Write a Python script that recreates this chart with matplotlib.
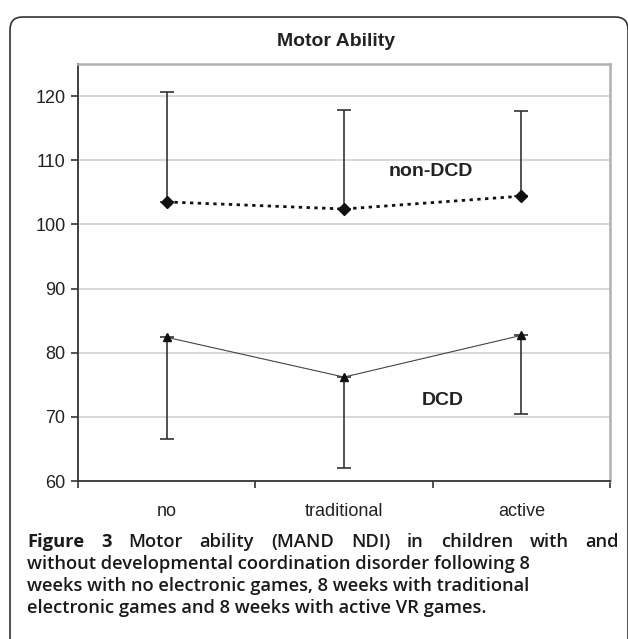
import numpy as np
import matplotlib.pyplot as plt
from matplotlib.patches import FancyBboxPatch

categories = ["no", "traditional", "active"]
non_dcd = [103.5, 102.4, 104.4]
non_dcd_upper = [120.6, 117.9, 117.6]
dcd = [82.4, 76.2, 82.7]
dcd_lower = [66.5, 62.0, 70.4]
y_ticks = [60, 70, 80, 90, 100, 110, 120]

caption = ["Motor ability (MAND NDI) in children with and",
           "without developmental coordination disorder following 8",
           "weeks with no electronic games, 8 weeks with traditional",
           "electronic games and 8 weeks with active VR games."]

W, H = 628, 639
fig = plt.figure(figsize=(W / 100, H / 100), dpi=100)

# rounded frame, cut off at right and bottom like the source
frame = FancyBboxPatch((10 / W, 1 - 17 / H - 1.2), 618 / W, 1.2,
                       boxstyle="round,pad=0,rounding_size=0.02",
                       transform=fig.transFigure, fill=False,
                       ec="#333333", lw=1.2, clip_on=False)
fig.patches.append(frame)

ax = fig.add_axes([78 / W, 1 - 481 / H, 532 / W, 417 / H])
x = np.arange(1, len(categories) + 1)

ax.set_ylim(60, 125)
ax.set_xlim(0.5, len(categories) + 0.5)
ax.set_yticks(y_ticks)
ax.set_yticklabels([str(v) for v in y_ticks], fontsize=13, family="Liberation Sans", color="#222222")
for v in y_ticks[1:]:
    ax.axhline(v, color="#d2d2d2", lw=1.2, zorder=0)

ax.set_xticks(x)
ax.set_xticklabels(categories, fontsize=13, family="Liberation Sans", color="#222222")
ax.tick_params(axis="x", length=0, pad=16)
ax.set_xticks(np.arange(0.5, len(categories) + 1, 1.0), minor=True)
ax.tick_params(axis="x", which="minor", length=5, direction="out", color="#333333", width=1.2)
ax.tick_params(axis="y", length=5, direction="out", color="#333333", width=1.2, pad=4)

for s in ["left", "bottom"]:
    ax.spines[s].set_color("#333333")
    ax.spines[s].set_linewidth(1.3)
for s in ["top", "right"]:
    ax.spines[s].set_color("#b0b0b0")
    ax.spines[s].set_linewidth(1.8)

# non-DCD: upper error bars only
up = np.array(non_dcd_upper) - np.array(non_dcd)
ax.errorbar(x, non_dcd, yerr=[np.zeros(len(x)), up], fmt="none",
            ecolor="#333333", elinewidth=1.2, capsize=5, capthick=1.2, zorder=2)
ax.plot(x, non_dcd, color="#111111", lw=2, linestyle=(0, (1.2, 1.6)), zorder=3)
ax.plot(x, non_dcd, "D", color="#111111", ms=6, zorder=4)

# DCD: lower error bars only
lo = np.array(dcd) - np.array(dcd_lower)
ax.errorbar(x, dcd, yerr=[lo, np.zeros(len(x))], fmt="none",
            ecolor="#333333", elinewidth=1.2, capsize=5, capthick=1.2, zorder=2)
ax.plot(x, dcd, color="#444444", lw=0.8, zorder=3)
ax.plot(x, dcd, "^", color="#111111", ms=6, zorder=4)

ax.text(2.25, 108.3, "non-DCD", fontsize=14, fontweight="bold", family="Liberation Sans",
        color="#222222", va="center")
ax.text(2.44, 72.6, "DCD", fontsize=14, fontweight="bold", family="Liberation Sans",
        color="#222222", va="center")

fig.text(336 / W, 1 - 41 / H, "Motor Ability", fontsize=14, fontweight="bold",
         family="Liberation Sans", color="#222222", ha="center", va="center")

# caption, first line justified
x0, x1 = 27, 619
ys = [542, 564, 586, 608]
fs = 13.2
fig.canvas.draw()
renderer = fig.canvas.get_renderer()
words = [("Figure", "bold"), ("3", "bold")] + [(w, "semibold") for w in caption[0].split()]
arts = []
for w, wt in words:
    t = fig.text(0, 1 - ys[0] / H, w, fontsize=fs, fontweight=wt, family="Open Sans",
                 color="#1a1a1a", va="center")
    arts.append(t)
widths = [a.get_window_extent(renderer).width for a in arts]
gap = (x1 - x0 - sum(widths)) / (len(arts) - 1)
pos = x0
for a, wd in zip(arts, widths):
    a.set_x(pos / W)
    pos += wd + gap
for line, yy in zip(caption[1:], ys[1:]):
    fig.text(x0 / W, 1 - yy / H, line, fontsize=fs, fontweight="semibold", family="Open Sans",
             color="#1a1a1a", va="center")

fig.savefig("out.png", dpi=100)
